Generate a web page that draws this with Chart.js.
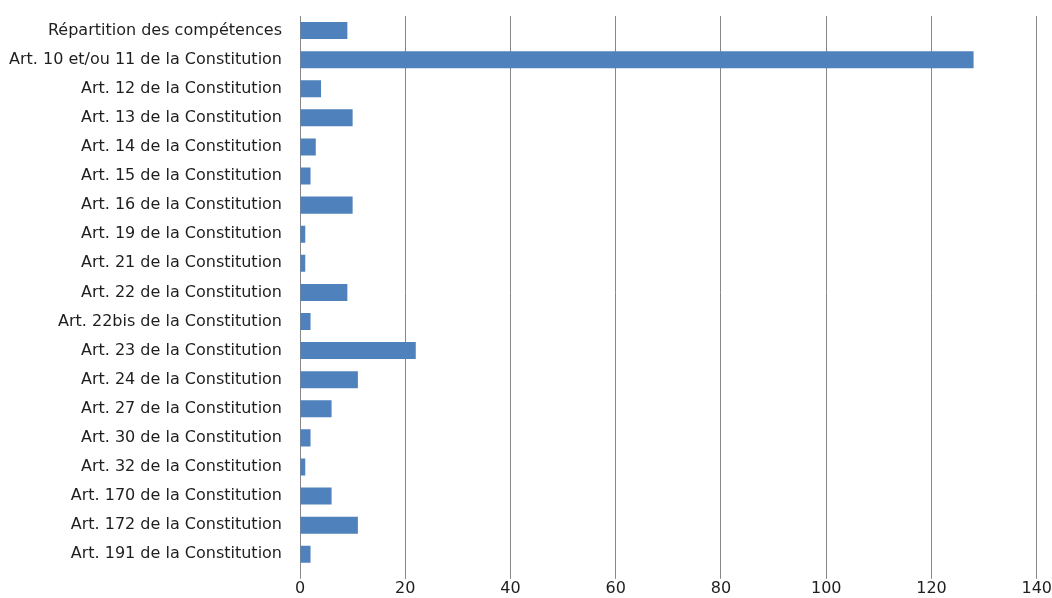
<!DOCTYPE html>
<html>
<head>
<meta charset="utf-8">
<script src="https://cdn.jsdelivr.net/npm/chart.js@4/dist/chart.umd.min.js"></script>
<style>
  html, body { margin: 0; padding: 0; background: #fff; }
  #wrap { width: 1052px; height: 598px; position: relative; }
</style>
</head>
<body>
<div id="wrap"><canvas id="c" width="1052" height="598"></canvas></div>
<script>
// Article references (category axis)
const categories = [
  "Répartition des compétences",
  "Art. 10 et/ou 11 de la Constitution",
  "Art. 12 de la Constitution",
  "Art. 13 de la Constitution",
  "Art. 14 de la Constitution",
  "Art. 15 de la Constitution",
  "Art. 16 de la Constitution",
  "Art. 19 de la Constitution",
  "Art. 21 de la Constitution",
  "Art. 22 de la Constitution",
  "Art. 22bis de la Constitution",
  "Art. 23 de la Constitution",
  "Art. 24 de la Constitution",
  "Art. 27 de la Constitution",
  "Art. 30 de la Constitution",
  "Art. 32 de la Constitution",
  "Art. 170 de la Constitution",
  "Art. 172 de la Constitution",
  "Art. 191 de la Constitution"
];

// Number of occurrences per reference
const counts = [9, 128, 4, 10, 3, 2, 10, 1, 1, 9, 2, 22, 11, 6, 2, 1, 6, 11, 2];

// Value axis ticks
const xTicks = [0, 20, 40, 60, 80, 100, 120, 140];

const labelFont = { family: "DejaVu Sans", size: 16 };

new Chart(document.getElementById("c"), {
  type: "bar",
  data: {
    labels: categories,
    datasets: [{
      data: counts,
      backgroundColor: "#4f81bd",
      borderWidth: 0,
      barPercentage: 0.75,
      categoryPercentage: 0.78
    }]
  },
  options: {
    indexAxis: "y",
    responsive: false,
    animation: false,
    layout: { padding: { top: 16, right: 15, bottom: 0, left: 0 } },
    plugins: { legend: { display: false }, tooltip: { enabled: false } },
    scales: {
      x: {
        min: xTicks[0],
        max: xTicks[xTicks.length - 1],
        afterBuildTicks: (axis) => { axis.ticks = xTicks.map(v => ({ value: v })); },
        grid: { color: "#878787", lineWidth: 1, tickLength: 10 },
        border: { display: false },
        ticks: { color: "#1e1e1e", font: labelFont, padding: 0 }
      },
      y: {
        afterFit: (axis) => {
          axis.width = 300;
          axis.paddingTop = 0;
          axis.paddingBottom = 0;
        },
        grid: { display: false },
        border: { display: true, color: "#878787", width: 1 },
        ticks: { color: "#1e1e1e", font: labelFont, padding: 10, autoSkip: false }
      }
    }
  }
});
</script>
</body>
</html>
